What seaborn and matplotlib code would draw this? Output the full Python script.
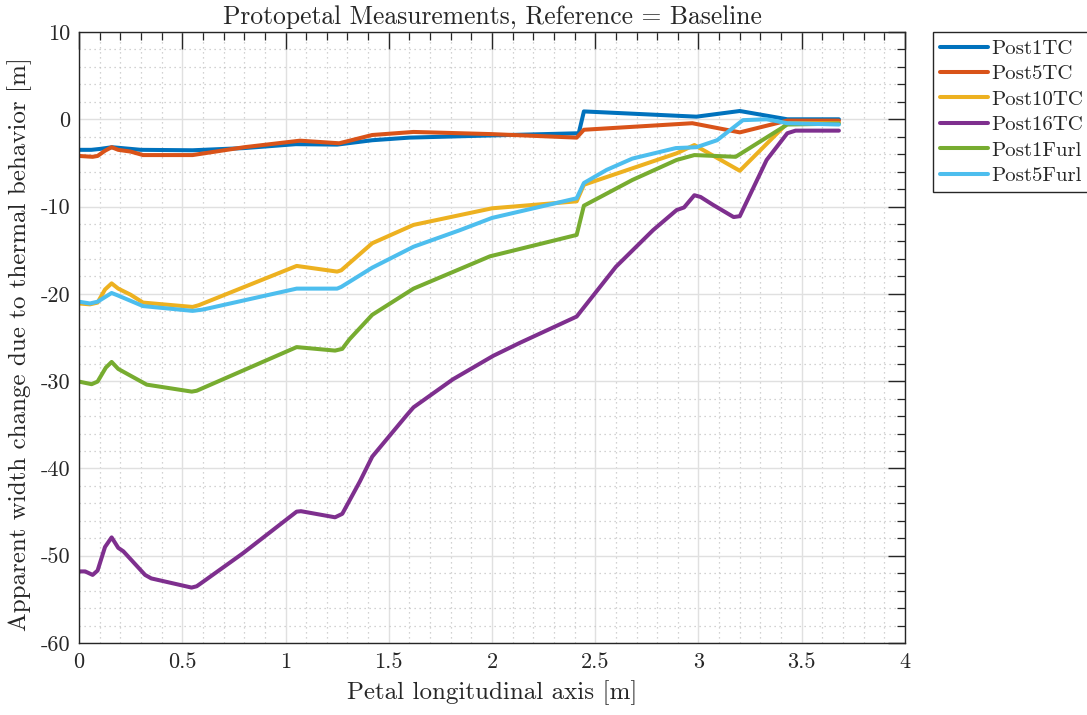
import matplotlib
matplotlib.use("Agg")
import matplotlib.pyplot as plt
from matplotlib.ticker import MultipleLocator
import seaborn as sns

# values
post1tc_x = [0, 0.06, 0.1, 0.16, 0.3, 0.55, 0.8, 1.05, 1.25, 1.42, 1.6, 2.0, 2.42, 2.445, 2.99, 3.2, 3.43, 3.68]
post1tc_y = [-3.5, -3.5, -3.4, -3.2, -3.5, -3.55, -3.3, -2.85, -2.9, -2.4, -2.1, -1.85, -1.6, 0.9, 0.3, 0.95, 0.0, 0.0]

post5tc_x = [0, 0.066, 0.09, 0.126, 0.158, 0.19, 0.25, 0.31, 0.55, 0.8, 1.07, 1.26, 1.42, 1.62, 2.0, 2.41,
             2.445, 2.97, 3.2, 3.43, 3.68]
post5tc_y = [-4.2, -4.3, -4.2, -3.6, -3.2, -3.5, -3.7, -4.1, -4.1, -3.2, -2.45, -2.75, -1.8, -1.45, -1.7, -2.1,
             -1.2, -0.45, -1.5, -0.15, -0.15]

post10tc_x = [0, 0.053, 0.09, 0.126, 0.158, 0.19, 0.25, 0.31, 0.55, 0.58, 1.054, 1.25, 1.27, 1.42, 1.62, 2.0,
              2.41, 2.445, 2.894, 2.98, 3.2, 3.43, 3.68]
post10tc_y = [-21.1, -21.2, -21.0, -19.5, -18.8, -19.4, -20.1, -21.0, -21.5, -21.3, -16.8, -17.45, -17.3, -14.2,
              -12.1, -10.2, -9.4, -7.5, -3.9, -2.95, -5.9, -0.45, -0.45]

post16tc_x = [0, 0.03, 0.066, 0.09, 0.126, 0.158, 0.19, 0.215, 0.32, 0.35, 0.545, 0.57, 0.6, 0.795, 1.054,
              1.075, 1.24, 1.275, 1.36, 1.42, 1.587, 1.62, 1.81, 2.006, 2.136, 2.41, 2.6, 2.78, 2.894, 2.93,
              2.98, 3.01, 3.07, 3.17, 3.2, 3.33, 3.43, 3.47, 3.68]
post16tc_y = [-51.8, -51.8, -52.2, -51.7, -49.0, -47.9, -49.1, -49.5, -52.2, -52.6, -53.65, -53.5, -53.0, -49.7,
              -44.95, -44.9, -45.6, -45.2, -41.5, -38.65, -33.9, -33.0, -29.8, -27.1, -25.6, -22.6, -16.9,
              -12.7, -10.4, -10.1, -8.7, -8.9, -9.8, -11.2, -11.1, -4.66, -1.6, -1.3, -1.3]

post1furl_x = [0, 0.061, 0.09, 0.13, 0.158, 0.19, 0.328, 0.546, 0.57, 1.054, 1.24, 1.275, 1.31, 1.42, 1.62,
               1.99, 2.41, 2.445, 2.68, 2.894, 2.98, 3.18, 3.43, 3.68]
post1furl_y = [-30.05, -30.35, -30.05, -28.45, -27.8, -28.6, -30.4, -31.2, -31.1, -26.1, -26.5, -26.3, -25.2,
               -22.4, -19.4, -15.7, -13.25, -9.9, -6.95, -4.66, -4.1, -4.3, -0.6, -0.5]

post5furl_x = [0, 0.053, 0.09, 0.158, 0.19, 0.31, 0.55, 0.6, 1.054, 1.25, 1.27, 1.42, 1.62, 1.845, 2.0, 2.41,
               2.445, 2.555, 2.68, 2.89, 2.99, 3.09, 3.215, 3.33, 3.43, 3.68]
post5furl_y = [-20.9, -21.1, -20.9, -19.9, -20.2, -21.4, -21.95, -21.8, -19.4, -19.4, -19.2, -17.0, -14.6,
               -12.7, -11.3, -9.05, -7.3, -5.8, -4.5, -3.3, -3.2, -2.4, -0.1, 0.0, -0.45, -0.6]

names = ["Post1TC", "Post5TC", "Post10TC", "Post16TC", "Post1Furl", "Post5Furl"]
xs = [post1tc_x, post5tc_x, post10tc_x, post16tc_x, post1furl_x, post5furl_x]
ys = [post1tc_y, post5tc_y, post10tc_y, post16tc_y, post1furl_y, post5furl_y]
colors = ["#0072BD", "#D95319", "#EDB120", "#7E2F8E", "#77AC30", "#4DBEEE"]

x_ticks = [0, 0.5, 1, 1.5, 2, 2.5, 3, 3.5, 4]
x_tick_labels = ["0", "0.5", "1", "1.5", "2", "2.5", "3", "3.5", "4"]
y_ticks = [-60, -50, -40, -30, -20, -10, 0, 10]
y_tick_labels = ["-60", "-50", "-40", "-30", "-20", "-10", "0", "10"]

sns.set_style("white")
plt.rcParams["font.family"] = ["cmr10", "DejaVu Serif"]
plt.rcParams["mathtext.fontset"] = "cm"
plt.rcParams["axes.unicode_minus"] = False

fig = plt.figure(figsize=(10.87, 7.15), dpi=100)
ax = fig.add_axes([79 / 1087, 1 - 643 / 715, (905 - 79) / 1087, (643 - 32) / 715])

for x, y, c, n in zip(xs, ys, colors, names):
    sns.lineplot(x=x, y=y, ax=ax, color=c, lw=2.9, label=n, sort=False)

ax.set_xlim(0, 4)
ax.set_ylim(-60, 10)
ax.set_xticks(x_ticks)
ax.set_xticklabels(x_tick_labels)
ax.set_yticks(y_ticks)
ax.set_yticklabels(y_tick_labels)
ax.xaxis.set_minor_locator(MultipleLocator(0.1))
ax.yaxis.set_minor_locator(MultipleLocator(2))

ax.grid(which="major", color="#e0e0e0", lw=1.0, ls="-")
ax.grid(which="minor", color="#c4c4c4", lw=0.9, ls=(0, (1, 3)))
ax.set_axisbelow(True)

ax.tick_params(which="both", direction="in", top=True, right=True, colors="#262626", labelsize=16)
ax.tick_params(which="major", length=12, width=1.0)
ax.tick_params(which="minor", length=6, width=0.9)
ax.tick_params(axis="x", pad=7)
ax.tick_params(axis="y", pad=6)
for s in ax.spines.values():
    s.set_color("#262626")
    s.set_linewidth(1.0)

ax.set_title("Protopetal Measurements, Reference = Baseline", fontsize=18.4, pad=6)
ax.set_xlabel("Petal longitudinal axis [m]", fontsize=18, labelpad=6)
ax.set_ylabel("Apparent width change due to thermal behavior [m]", fontsize=18)
ax.yaxis.set_label_coords(-0.057, 0.489)

ax.legend(loc="upper left", bbox_to_anchor=(933 / 1087, 1 - 32 / 715), bbox_transform=fig.transFigure,
          fontsize=15, frameon=True, fancybox=False, edgecolor="#262626", framealpha=1,
          handlelength=2.3, handletextpad=0.15, labelspacing=0.33, borderpad=0.35, borderaxespad=0)

fig.savefig("out.png", dpi=100)
